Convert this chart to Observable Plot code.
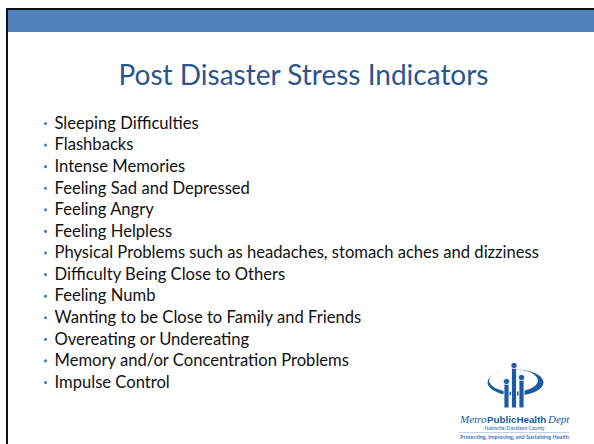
<!DOCTYPE html>
<html><head><meta charset="utf-8">
<script src="https://cdn.jsdelivr.net/npm/d3@7"></script>
<script src="https://cdn.jsdelivr.net/npm/@observablehq/plot@0.6"></script>
<style>html,body{margin:0;padding:0;background:#fff;overflow:hidden}</style>
</head><body><div id="chart"></div>
<script>
const title = "Post Disaster Stress Indicators";
const indicators = [
  "Sleeping Difficulties",
  "Flashbacks",
  "Intense Memories",
  "Feeling Sad and Depressed",
  "Feeling Angry",
  "Feeling Helpless",
  "Physical Problems such as headaches, stomach aches and dizziness",
  "Difficulty Being Close to Others",
  "Feeling Numb",
  "Wanting to be Close to Family and Friends",
  "Overeating or Undereating",
  "Memory and/or Concentration Problems",
  "Impulse Control"
];
const logoName = ["Metro", "PublicHealth", "Dept"];
const logoCounty = "Nashville/Davidson County";
const logoTagline = "Protecting, Improving, and Sustaining Health";

// list rows placed with Plot's own point scale
const listScale = Plot.scale({y: {type: "point", domain: indicators, range: [123, 382], padding: 0}});
const rows = indicators.map(label => ({label, y: listScale.apply(label)}));

const BLUE = "#4f81bd", LOGO = "#1d5aa6";
const ellipseSymbol = {
  draw(ctx, size) {
    const r = Math.sqrt(size / Math.PI), rx = r * 2.15, ry = r, k = 0.5523;
    ctx.moveTo(rx, 0);
    ctx.bezierCurveTo(rx, ry * k, rx * k, ry, 0, ry);
    ctx.bezierCurveTo(-rx * k, ry, -rx, ry * k, -rx, 0);
    ctx.bezierCurveTo(-rx, -ry * k, -rx * k, -ry, 0, -ry);
    ctx.bezierCurveTo(rx * k, -ry, rx, -ry * k, rx, 0);
    ctx.closePath();
  }
};

const ringOuter = [{x: 515, y: 382}];
const ringInner = [{x: 513, y: 380}];
const figures = [
  {x: 506, head: 381},
  {x: 513.5, head: 365},
  {x: 521, head: 377}
];

const chart = Plot.plot({
  width: 594, height: 444, margin: 0,
  x: {type: "identity"}, y: {type: "identity"},
  style: {fontFamily: "Lato, 'Open Sans', sans-serif", background: "#fff"},
  marks: [
    // slide frame and header bar
    Plot.rect([{x1: 8, x2: 594, y1: 10, y2: 32}], {x1: "x1", x2: "x2", y1: "y1", y2: "y2", fill: BLUE}),
    Plot.rect([{x1: 6, x2: 594, y1: 8, y2: 10}], {x1: "x1", x2: "x2", y1: "y1", y2: "y2", fill: "#111"}),
    Plot.rect([{x1: 6, x2: 8, y1: 8, y2: 444}], {x1: "x1", x2: "x2", y1: "y1", y2: "y2", fill: "#111"}),
    // title
    Plot.text([title], {x: 303, y: 76, text: d => d, fontSize: 28, fill: "#2a5690", textAnchor: "middle"}),
    // bullets
    Plot.dot(rows, {x: 45, y: "y", r: 1.6, fill: BLUE, stroke: null}),
    Plot.text(rows, {x: 54, y: "y", text: "label", textAnchor: "start", fontSize: 16.6, fill: "#111"}),
    // logo icon
    Plot.dot(ringOuter, {x: "x", y: "y", r: 13, symbol: ellipseSymbol, fill: LOGO, stroke: null}),
    Plot.dot(ringInner, {x: "x", y: "y", r: 11.3, symbol: ellipseSymbol, fill: "#fff", stroke: null}),
    Plot.link(figures, {x1: "x", x2: "x", y1: d => d.head + 3, y2: 407, stroke: "#fff", strokeWidth: 6}),
    Plot.link(figures, {x1: "x", x2: "x", y1: d => d.head + 3, y2: 407, stroke: LOGO, strokeWidth: 4.2}),
    Plot.dot(figures, {x: "x", y: "head", r: 3.1, fill: LOGO, stroke: "#fff", strokeWidth: 0.8}),
    // logo text
    Plot.text([logoName[0]], {x: 486, y: 419, text: d => d, textAnchor: "end", fontSize: 11, fontStyle: "italic", fontFamily: "'Liberation Serif', serif", fill: LOGO}),
    Plot.text([logoName[1]], {x: 486.5, y: 419, text: d => d, textAnchor: "start", fontSize: 9.8, fontWeight: "bold", fontFamily: "'Liberation Sans', sans-serif", fill: LOGO}),
    Plot.text([logoName[2]], {x: 547.5, y: 419, text: d => d, textAnchor: "start", fontSize: 11, fontStyle: "italic", fontFamily: "'Liberation Serif', serif", fill: LOGO}),
    Plot.text([logoCounty], {x: 514, y: 427.5, text: d => d, textAnchor: "middle", fontSize: 5, letterSpacing: "3.2px", fill: LOGO}),
    Plot.ruleY([432], {x1: 459, x2: 569, stroke: "#9ab3d8", strokeWidth: 0.6}),
    Plot.text([logoTagline], {x: 514, y: 437, text: d => d, textAnchor: "middle", fontSize: 5.5, fontWeight: "bold", fill: "#4a74b4"})
  ]
});
document.getElementById("chart").appendChild(chart);
</script>
</body></html>
